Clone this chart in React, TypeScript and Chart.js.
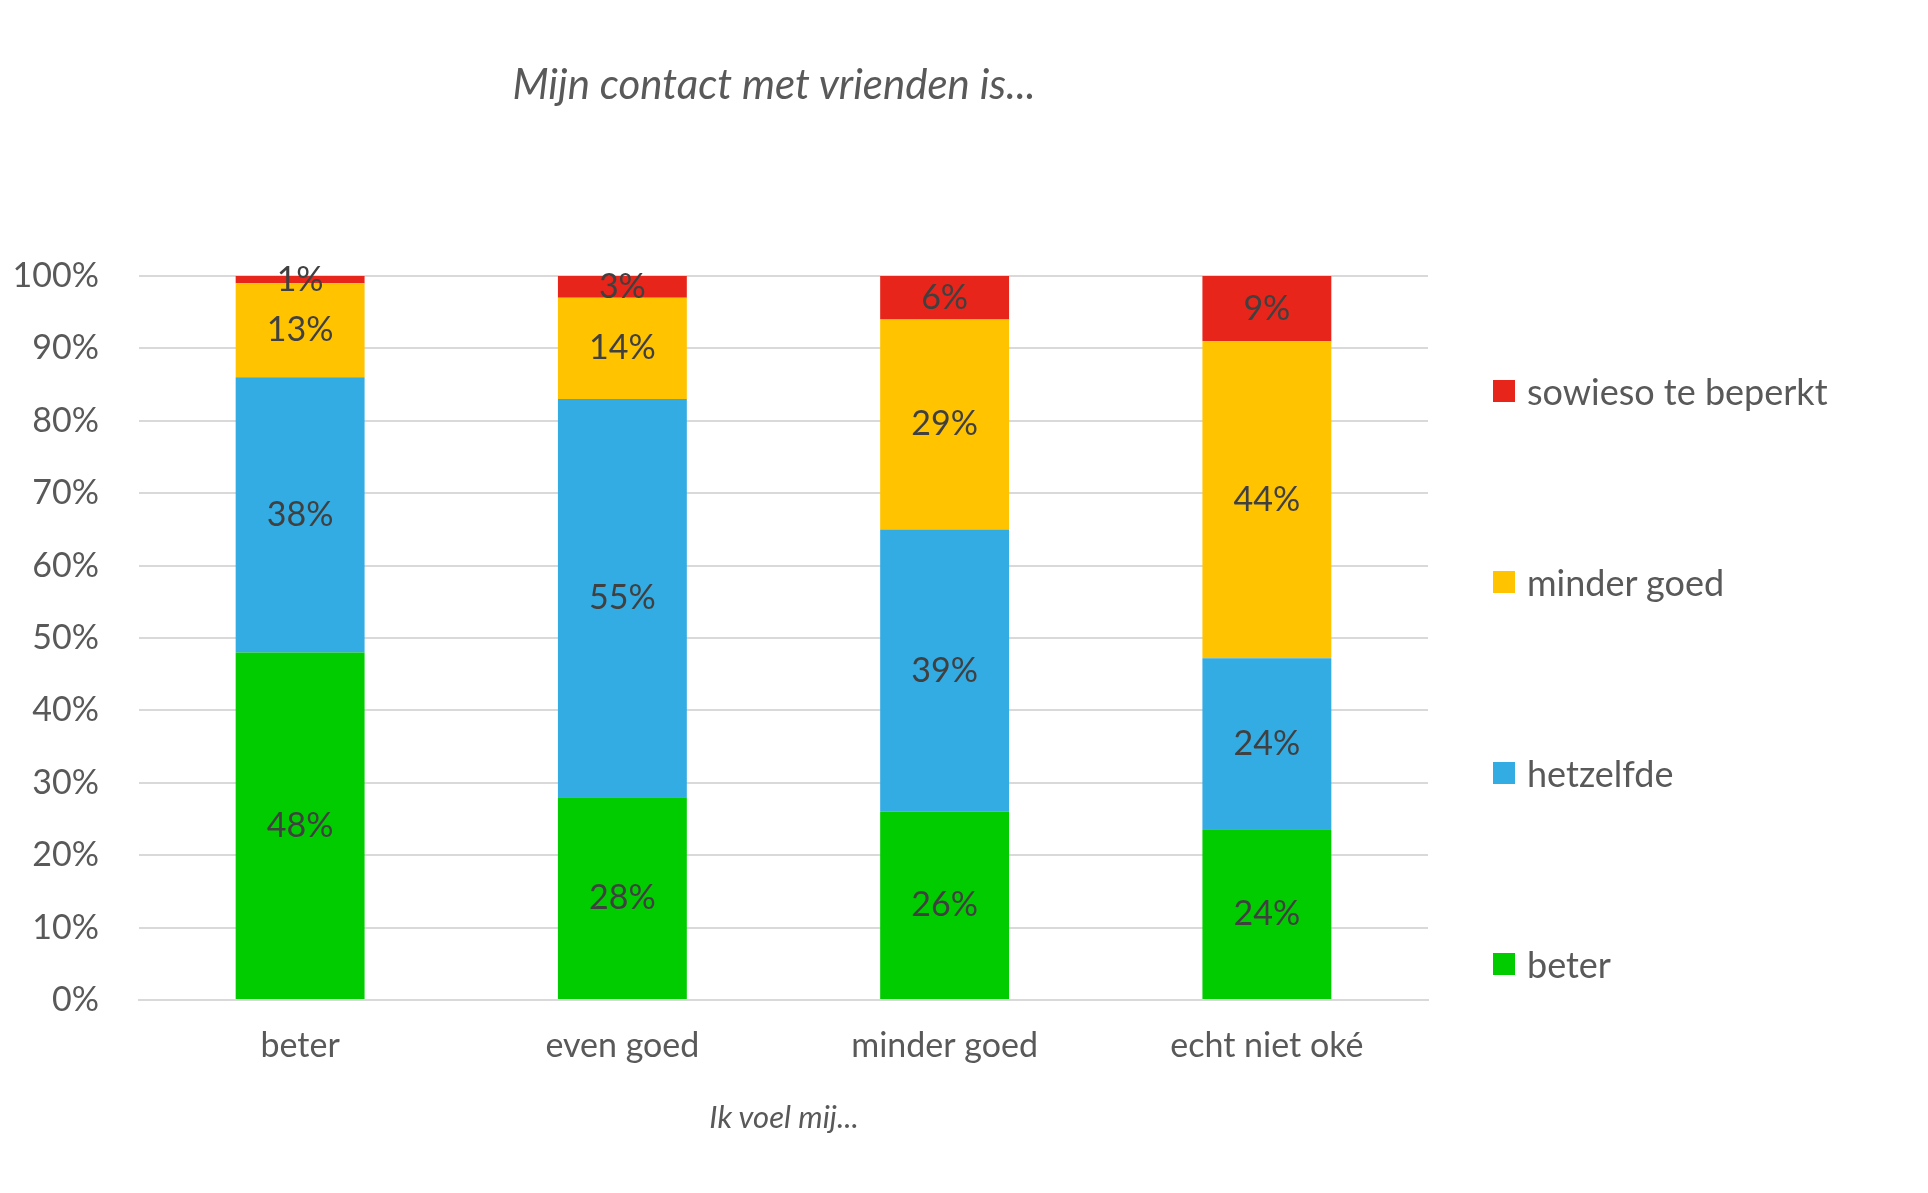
import React, { useEffect, useRef } from "react";
import { Chart, registerables } from "chart.js";
Chart.register(...registerables);

const categories = ["beter", "even goed", "minder goed", "echt niet oké"];
const seriesNames = ["beter", "hetzelfde", "minder goed", "sowieso te beperkt"];
const colors = ["#00CC00", "#33ABE3", "#FFC300", "#E8251A"];
const beterVals = [48, 28, 26, 23.6];
const hetzelfdeVals = [38, 55, 39, 23.6];
const minderVals = [13, 14, 29, 43.8];
const sowiesoVals = [1, 3, 6, 9];
const yTicks = [0, 10, 20, 30, 40, 50, 60, 70, 80, 90, 100];
const FONT = "Lato, 'Open Sans', sans-serif";

const labelPlugin = {
  id: "labels",
  afterDatasetsDraw(chart: any) {
    const ctx = chart.ctx;
    ctx.save();
    ctx.font = `34px ${FONT}`;
    ctx.fillStyle = "#404040";
    ctx.textAlign = "center";
    ctx.textBaseline = "middle";
    chart.data.datasets.forEach((ds: any, i: number) => {
      chart.getDatasetMeta(i).data.forEach((bar: any, j: number) => {
        const y = (bar.y + bar.base) / 2;
        ctx.fillText(Math.round(ds.data[j]) + "%", bar.x, y);
      });
    });
    ctx.restore();
  },
};

export default function App() {
  const ref = useRef<HTMLCanvasElement>(null);
  useEffect(() => {
    const data = [beterVals, hetzelfdeVals, minderVals, sowiesoVals];
    const chart = new Chart(ref.current!, {
      type: "bar",
      data: {
        labels: categories,
        datasets: seriesNames.map((n, i) => ({
          label: n,
          data: data[i],
          backgroundColor: colors[i],
          barPercentage: 0.4,
          categoryPercentage: 1,
        })),
      },
      options: {
        animation: false,
        responsive: false,
        layout: { padding: { top: 276, right: 500, left: 0, bottom: 0 } },
        plugins: { legend: { display: false }, tooltip: { enabled: false } },
        scales: {
          x: {
            stacked: true,
            grid: { display: false },
            border: { color: "#D9D9D9", width: 2 },
            ticks: { color: "#595959", font: { size: 34, family: FONT }, padding: 18 },
            afterFit: (s: any) => { s.height = 193; },
          },
          y: {
            stacked: true,
            min: 0,
            max: 100,
            afterBuildTicks: (s: any) => { s.ticks = yTicks.map((v) => ({ value: v })); },
            grid: { color: "#D9D9D9", lineWidth: 2, drawTicks: false },
            border: { display: false },
            ticks: { color: "#595959", font: { size: 34, family: FONT }, padding: 40, callback: (v: any) => v + "%" },
            afterFit: (s: any) => { s.width = 139; },
          },
        },
      },
      plugins: [labelPlugin],
    });
    return () => chart.destroy();
  }, []);
  const legendOrder = [3, 2, 1, 0];
  return (
    <div style={{ position: "absolute", left: 0, top: 0, width: 1928, height: 1193, background: "#fff", fontFamily: FONT }}>
      <canvas ref={ref} width={1928} height={1193} style={{ position: "absolute", left: 0, top: 0 }} />
      <div style={{ position: "absolute", left: 0, width: 1548, top: 58, textAlign: "center", fontSize: 42, fontStyle: "italic", color: "#595959" }}>
        Mijn contact met vrienden is...
      </div>
      <div style={{ position: "absolute", left: 0, width: 1568, top: 1097, textAlign: "center", fontSize: 31, fontStyle: "italic", color: "#595959" }}>
        Ik voel mij...
      </div>
      {legendOrder.map((i, k) => (
        <div key={i} style={{ position: "absolute", left: 1493, top: 369 + k * 191, display: "flex", alignItems: "center", fontSize: 36, color: "#595959" }}>
          <div style={{ width: 22, height: 22, background: colors[i], marginRight: 12 }} />
          {seriesNames[i]}
        </div>
      ))}
    </div>
  );
}
